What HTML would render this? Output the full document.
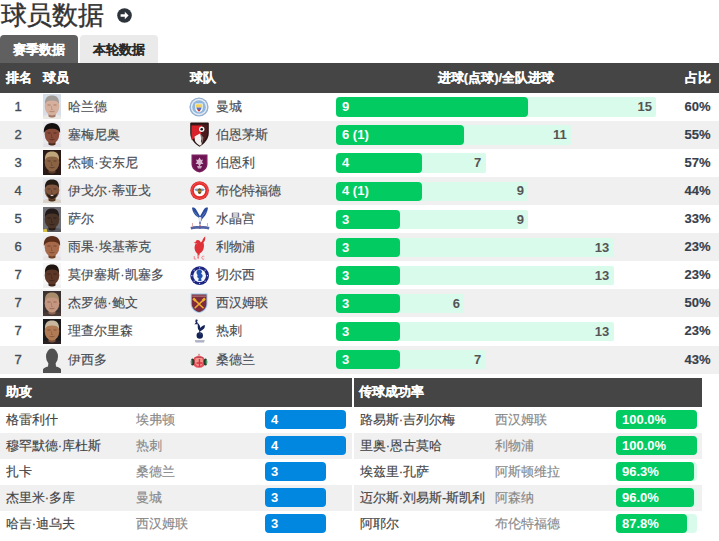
<!DOCTYPE html><html><head><meta charset="utf-8"><style>
*{margin:0;padding:0;box-sizing:border-box}
html,body{width:719px;height:541px;overflow:hidden;background:#fff}
body{font-family:"Liberation Sans", sans-serif;color:#333;position:relative}
.a{position:absolute;white-space:nowrap}
.title{left:0.6px;top:-2.5px;font-size:25.5px;line-height:34px;color:#333;letter-spacing:-0.3px;-webkit-text-stroke:0.4px #333}
.tab{-webkit-text-stroke:0.2px currentColor;top:35px;height:28px;width:78px;border-radius:4px 4px 0 0;font-size:13px;font-weight:bold;line-height:29px;text-align:center}
.hdr{background:#454545;color:#fff;font-weight:bold;font-size:13px;-webkit-text-stroke:0.2px #fff}
.row{left:0;width:719px}
.g{background:#f0f0f0}
.t{font-size:13px;line-height:16px;-webkit-text-stroke:0.15px currentColor}
.bar{border-radius:4px}
.bt{color:#fff;font-weight:bold;font-size:13px;line-height:20px}
</style></head><body>

<div class="a title">球员数据</div>
<svg class="a" style="left:116.8px;top:8px" width="15" height="15" viewBox="0 0 15 15"><circle cx="7.5" cy="7.5" r="7.3" fill="#2d333b"/><path d="M3.6 6.3h4.2V3.8l3.8 3.7-3.8 3.7V8.7H3.6z" fill="#fff"/></svg>
<div class="a tab" style="left:0;background:#606060;color:#fff">赛季数据</div>
<div class="a tab" style="left:79.8px;width:78.2px;background:#eaeaea;color:#2a2a2a;line-height:30px;-webkit-text-stroke:0.1px #2a2a2a">本轮数据</div>
<div class="a hdr" style="left:0;top:63px;width:719px;height:29.599999999999994px"></div>
<div class="a hdr" style="left:5.6px;top:63px;line-height:29.599999999999994px;background:none;">排名</div>
<div class="a hdr" style="left:42.5px;top:63px;line-height:29.599999999999994px;background:none;">球员</div>
<div class="a hdr" style="left:189.5px;top:63px;line-height:29.599999999999994px;background:none;">球队</div>
<div class="a hdr" style="left:336px;top:63px;line-height:29.599999999999994px;background:none;width:320px;text-align:center">进球(点球)/全队进球</div>
<div class="a hdr" style="top:63px;line-height:29.599999999999994px;background:none;right:7.8px;left:auto">占比</div>
<div class="a row" style="top:92.60px;height:28.1px">
<div class="a t" style="left:0;width:36px;text-align:center;top:6px;color:#434c56;-webkit-text-stroke:0.35px #434c56">1</div>
<svg width="18" height="25" viewBox="0 0 18 25" style="position:absolute;left:43px;top:1.6px"><rect width="18" height="25" fill="#d8dee8"/><path d="M0 22.5c2-1.5 5-2 9-2s7 .5 9 2V25H0z" fill="#ece8e4"/><path d="M5.5 17h7v5.5c-1 .8-2 1-3.5 1s-2.5-.2-3.5-1z" fill="#a07868"/><ellipse cx="9" cy="12.3" rx="7.3" ry="9.2" fill="#d6b09c"/><path d="M2 10c-.5-6 2.5-8.5 7-8.5s7.5 2.5 7 8.5c-1-2.5-3-3.5-7-3.5S3 7.5 2 10z" fill="#a29c98"/><path d="M4.5 11h3M10.5 11h3" stroke="#a07868" stroke-width="1.2" opacity=".9"/><path d="M8.5 12v3.5h1.5" stroke="#a07868" stroke-width=".7" fill="none" opacity=".6"/><path d="M6.5 17.2c1.5.7 3.5.7 5 0" stroke="#a07868" stroke-width="1" fill="none" opacity=".8"/></svg>
<div class="a t" style="left:68.2px;top:6px;color:#474c52">哈兰德</div>
<svg width="20" height="20" viewBox="0 0 20 20" style="position:absolute;left:189px;top:4.2px"><circle cx="10" cy="10" r="9.6" fill="#95b0d2"/><circle cx="10" cy="10" r="8.2" fill="#e6edf5"/><circle cx="10" cy="10" r="6.8" fill="#8fb6dc"/><path d="M6.3 6.5h7.4v4.5c0 2.5-1.8 3.8-3.7 4.5-1.9-.7-3.7-2-3.7-4.5z" fill="#fff"/><path d="M6.8 7.2h6.4v3.3H6.8z" fill="#f4d25a"/><path d="M7.4 10.5h5.2c-.2 2-1.2 3-2.6 3.8-1.4-.8-2.4-1.8-2.6-3.8z" fill="#5a6ec0"/><path d="M9 12.6h2v1.6H9z" fill="#d0342c"/></svg>
<div class="a t" style="left:215.5px;top:6px;color:#474c52">曼城</div>
<div class="a bar" style="left:336.4px;top:4.7px;width:320.0px;height:19.3px;background:#d9fbec;border-radius:2px"></div>
<div class="a bar" style="left:336.4px;top:4.7px;width:192.0px;height:19.3px;background:#02cb62"></div>
<div class="a bt" style="left:342px;top:4.5px">9</div>
<div class="a bt" style="left:336px;width:316.0px;text-align:right;top:4.5px;color:#555">15</div>
<div class="a t" style="right:8.4px;top:6px;font-weight:bold;color:#36404c">60%</div>
</div>
<div class="a row g" style="top:120.70px;height:28.1px">
<div class="a t" style="left:0;width:36px;text-align:center;top:6px;color:#434c56;-webkit-text-stroke:0.35px #434c56">2</div>
<svg width="18" height="25" viewBox="0 0 18 25" style="position:absolute;left:43px;top:1.6px"><rect width="18" height="25" fill="#e8e8ee"/><path d="M0 22.5c2-1.5 5-2 9-2s7 .5 9 2V25H0z" fill="#e2e2e8"/><path d="M5.5 17h7v5.5c-1 .8-2 1-3.5 1s-2.5-.2-3.5-1z" fill="#4e2a1e"/><ellipse cx="9" cy="12.3" rx="7.3" ry="9.2" fill="#8a4c3a"/><path d="M1 11.5C0 5 3.5 1 9 1s9 4 8 10.5c-.8-2.8-3-4.8-8-4.8S1.8 8.7 1 11.5z" fill="#141010"/><path d="M4.5 11h3M10.5 11h3" stroke="#4e2a1e" stroke-width="1.2" opacity=".9"/><path d="M8.5 12v3.5h1.5" stroke="#4e2a1e" stroke-width=".7" fill="none" opacity=".6"/><path d="M6.5 17.2c1.5.7 3.5.7 5 0" stroke="#4e2a1e" stroke-width="1" fill="none" opacity=".8"/></svg>
<div class="a t" style="left:68.2px;top:6px;color:#474c52">塞梅尼奥</div>
<svg width="19" height="25" viewBox="0 0 19 25" style="position:absolute;left:189.6px;top:1.8px"><path d="M1.2.5h16.6q1 0 1 1V11c0 6-4.5 11-9.3 13.7C4.700 22 .2 17 .2 11V1.5q0-1 1-1z" fill="#2a1414"/><path d="M1.5 2.5h16v8.5c0 5-3.8 9.3-8 11.8-4.2-2.5-8-6.8-8-11.8z" fill="#4a1a1c"/><path d="M1.5 3.5h11l-2.5 4.5 1.5 4-6 3.5-4 2.5z" fill="#d8202a"/><path d="M4.5 14.5l5.5-3 2 3.5-1 4 1 3-2 1.8c-2-1.2-3.8-2.8-5-4.8z" fill="#f4f0f0"/><path d="M10 11.5l3.5 4-.8 4.5-1.7 2.3 1-3-1-4z" fill="#8a7272"/><circle cx="11.7" cy="7.3" r="2.7" fill="#f4f4f4"/><circle cx="11.7" cy="7.3" r="1.3" fill="#111"/></svg>
<div class="a t" style="left:215.5px;top:6px;color:#474c52">伯恩茅斯</div>
<div class="a bar" style="left:336.4px;top:4.7px;width:234.7px;height:19.3px;background:#d9fbec;border-radius:2px"></div>
<div class="a bar" style="left:336.4px;top:4.7px;width:128.0px;height:19.3px;background:#02cb62"></div>
<div class="a bt" style="left:342px;top:4.5px">6 (1)</div>
<div class="a bt" style="left:336px;width:230.7px;text-align:right;top:4.5px;color:#555">11</div>
<div class="a t" style="right:8.4px;top:6px;font-weight:bold;color:#36404c">55%</div>
</div>
<div class="a row" style="top:148.80px;height:28.1px">
<div class="a t" style="left:0;width:36px;text-align:center;top:6px;color:#434c56;-webkit-text-stroke:0.35px #434c56">3</div>
<svg width="18" height="25" viewBox="0 0 18 25" style="position:absolute;left:43px;top:1.6px"><rect width="18" height="25" fill="#2c1a16"/><path d="M0 22.5c2-1.5 5-2 9-2s7 .5 9 2V25H0z" fill="#2a1a16"/><path d="M5.5 17h7v5.5c-1 .8-2 1-3.5 1s-2.5-.2-3.5-1z" fill="#5a3a28"/><ellipse cx="9" cy="12.3" rx="7.3" ry="9.2" fill="#8a6244"/><path d="M2 10c-.5-6 2.5-8.5 7-8.5s7.5 2.5 7 8.5c-1-2.5-3-3.5-7-3.5S3 7.5 2 10z" fill="#c0a67c"/><path d="M4.5 11h3M10.5 11h3" stroke="#5a3a28" stroke-width="1.2" opacity=".9"/><path d="M8.5 12v3.5h1.5" stroke="#5a3a28" stroke-width=".7" fill="none" opacity=".6"/><path d="M6.5 17.2c1.5.7 3.5.7 5 0" stroke="#5a3a28" stroke-width="1" fill="none" opacity=".8"/></svg>
<div class="a t" style="left:68.2px;top:6px;color:#474c52">杰顿·安东尼</div>
<svg width="17" height="19" viewBox="0 0 17 19" style="position:absolute;left:191px;top:5px"><path d="M.5.5h16v9.5c0 4.5-3.5 7.5-8 8.5-4.5-1-8-4-8-8.5z" fill="#7b1f5e"/><path d="M2 2h13v8c0 3.8-3 6.2-6.5 7.2C5 16.2 2 13.8 2 10z" fill="#6d1552"/><path d="M8.5 3.5l1.5 2.5 2-.5-1 2.5 1.5 2H10l-1.5 2.5L7 10H4.5L6 8 5 5.5l2 .5z" fill="#d8b8d0"/><path d="M6 12h5l-1 2.5H7z" fill="#c8a8c0"/></svg>
<div class="a t" style="left:215.5px;top:6px;color:#474c52">伯恩利</div>
<div class="a bar" style="left:336.4px;top:4.7px;width:149.3px;height:19.3px;background:#d9fbec;border-radius:2px"></div>
<div class="a bar" style="left:336.4px;top:4.7px;width:85.3px;height:19.3px;background:#02cb62"></div>
<div class="a bt" style="left:342px;top:4.5px">4</div>
<div class="a bt" style="left:336px;width:145.3px;text-align:right;top:4.5px;color:#555">7</div>
<div class="a t" style="right:8.4px;top:6px;font-weight:bold;color:#36404c">57%</div>
</div>
<div class="a row g" style="top:176.90px;height:28.1px">
<div class="a t" style="left:0;width:36px;text-align:center;top:6px;color:#434c56;-webkit-text-stroke:0.35px #434c56">4</div>
<svg width="18" height="25" viewBox="0 0 18 25" style="position:absolute;left:43px;top:1.6px"><rect width="18" height="25" fill="#e4e6ec"/><path d="M0 22.5c2-1.5 5-2 9-2s7 .5 9 2V25H0z" fill="#d8d2c8"/><path d="M5.5 17h7v5.5c-1 .8-2 1-3.5 1s-2.5-.2-3.5-1z" fill="#50321e"/><ellipse cx="9" cy="12.3" rx="7.3" ry="9.2" fill="#80563e"/><path d="M2 10c-.5-6 2.5-8.5 7-8.5s7.5 2.5 7 8.5c-1-2.5-3-3.5-7-3.5S3 7.5 2 10z" fill="#231a14"/><path d="M4.5 11h3M10.5 11h3" stroke="#50321e" stroke-width="1.2" opacity=".9"/><path d="M8.5 12v3.5h1.5" stroke="#50321e" stroke-width=".7" fill="none" opacity=".6"/><path d="M6.5 17.2c1.5.7 3.5.7 5 0" stroke="#50321e" stroke-width="1" fill="none" opacity=".8"/><path d="M3 13c.5 5 3 8 6 8s5.5-3 6-8c-.5 2.5-2 4-6 4s-5.5-1.5-6-4z" fill="#2a1e18"/><path d="M7 17h4l-2 1.2z" fill="#f4f0ea"/></svg>
<div class="a t" style="left:68.2px;top:6px;color:#474c52">伊戈尔·蒂亚戈</div>
<svg width="19.2" height="19.2" viewBox="0 0 20 20" style="position:absolute;left:189.8px;top:4.6px"><circle cx="10" cy="10" r="9.7" fill="#e42a2a"/><circle cx="10" cy="10" r="6" fill="#fff"/><circle cx="10" cy="10" r="8.3" fill="none" stroke="#f07070" stroke-width=".6"/><path d="M4.5 8.8c1.8-1.2 3.6-1.2 5.5 0 1.9-1.2 3.7-1.2 5.5 0-.9 1.7-3 2.1-5.5 1.7-2.5.4-4.6 0-5.5-1.7z" fill="#7a9ac8"/><ellipse cx="10" cy="10.5" rx="1.9" ry="3" fill="#6a5020"/><path d="M8.3 10h3.4v1H8.3z" fill="#e0a020"/></svg>
<div class="a t" style="left:215.5px;top:6px;color:#474c52">布伦特福德</div>
<div class="a bar" style="left:336.4px;top:4.7px;width:192.0px;height:19.3px;background:#d9fbec;border-radius:2px"></div>
<div class="a bar" style="left:336.4px;top:4.7px;width:85.3px;height:19.3px;background:#02cb62"></div>
<div class="a bt" style="left:342px;top:4.5px">4 (1)</div>
<div class="a bt" style="left:336px;width:188.0px;text-align:right;top:4.5px;color:#555">9</div>
<div class="a t" style="right:8.4px;top:6px;font-weight:bold;color:#36404c">44%</div>
</div>
<div class="a row" style="top:205.00px;height:28.1px">
<div class="a t" style="left:0;width:36px;text-align:center;top:6px;color:#434c56;-webkit-text-stroke:0.35px #434c56">5</div>
<svg width="18" height="25" viewBox="0 0 18 25" style="position:absolute;left:43px;top:1.6px"><rect width="18" height="25" fill="#6e6e76"/><path d="M0 22.5c2-1.5 5-2 9-2s7 .5 9 2V25H0z" fill="#585860"/><path d="M5.5 17h7v5.5c-1 .8-2 1-3.5 1s-2.5-.2-3.5-1z" fill="#2a1c16"/><ellipse cx="9" cy="12.3" rx="7.3" ry="9.2" fill="#4a3428"/><path d="M2 10c-.5-6 2.5-8.5 7-8.5s7.5 2.5 7 8.5c-1-2.5-3-3.5-7-3.5S3 7.5 2 10z" fill="#221a18"/><path d="M4.5 11h3M10.5 11h3" stroke="#2a1c16" stroke-width="1.2" opacity=".9"/><path d="M8.5 12v3.5h1.5" stroke="#2a1c16" stroke-width=".7" fill="none" opacity=".6"/><path d="M6.5 17.2c1.5.7 3.5.7 5 0" stroke="#2a1c16" stroke-width="1" fill="none" opacity=".8"/><path d="M0 22.5l3.5-1 1 3.5H0z" fill="#d8c040"/></svg>
<div class="a t" style="left:68.2px;top:6px;color:#474c52">萨尔</div>
<svg width="20" height="25" viewBox="0 0 20 25" style="position:absolute;left:189.5px;top:2.2px"><path d="M2 .8c1.5-.5 3 0 4 1.5l4 7 4-7c1-1.5 2.5-2 4-1.5-.5 3.5-2 7.5-4.5 9.7-1 .8-1.5 2-2.5 4-1-2-1.5-3.2-2.5-4C4 8.300 2.500 4.300 2 .8z" fill="#2b4c9c"/><path d="M4 4.5c1.5 1.5 3 3.5 4.5 6M16 4.5c-1.5 1.5-3 3.5-4.5 6" stroke="#7090d0" stroke-width=".7" fill="none"/><ellipse cx="10" cy="12" rx="1.5" ry="2.2" fill="#dfe4f0"/><path d="M9.3 14.5h1.4v3H9.3z" fill="#4a5aa0"/><circle cx="10" cy="19.3" r="1" fill="#c8202e"/><path d="M.5 20c3-1 6.5-1.2 9.5-.6 3-.6 6.5-.4 9.5.6l-.6 2.6c-3-.9-6-1-8.9-.5-2.9-.5-5.9-.4-8.9.5z" fill="#5464a4"/><path d="M2.5 16v4M17.5 16v4" stroke="#e0a0a0" stroke-width=".9"/></svg>
<div class="a t" style="left:215.5px;top:6px;color:#474c52">水晶宫</div>
<div class="a bar" style="left:336.4px;top:4.7px;width:192.0px;height:19.3px;background:#d9fbec;border-radius:2px"></div>
<div class="a bar" style="left:336.4px;top:4.7px;width:64.0px;height:19.3px;background:#02cb62"></div>
<div class="a bt" style="left:342px;top:4.5px">3</div>
<div class="a bt" style="left:336px;width:188.0px;text-align:right;top:4.5px;color:#555">9</div>
<div class="a t" style="right:8.4px;top:6px;font-weight:bold;color:#36404c">33%</div>
</div>
<div class="a row g" style="top:233.10px;height:28.1px">
<div class="a t" style="left:0;width:36px;text-align:center;top:6px;color:#434c56;-webkit-text-stroke:0.35px #434c56">6</div>
<svg width="18" height="25" viewBox="0 0 18 25" style="position:absolute;left:43px;top:1.6px"><rect width="18" height="25" fill="#ecebef"/><path d="M0 22.5c2-1.5 5-2 9-2s7 .5 9 2V25H0z" fill="#e8e4e4"/><path d="M5.5 17h7v5.5c-1 .8-2 1-3.5 1s-2.5-.2-3.5-1z" fill="#6e4028"/><ellipse cx="9" cy="12.3" rx="7.3" ry="9.2" fill="#a66a4a"/><path d="M1 11.5C0 5 3.5 1 9 1s9 4 8 10.5c-.8-2.8-3-4.8-8-4.8S1.8 8.7 1 11.5z" fill="#5a2e1a"/><path d="M4.5 11h3M10.5 11h3" stroke="#6e4028" stroke-width="1.2" opacity=".9"/><path d="M8.5 12v3.5h1.5" stroke="#6e4028" stroke-width=".7" fill="none" opacity=".6"/><path d="M6.5 17.2c1.5.7 3.5.7 5 0" stroke="#6e4028" stroke-width="1" fill="none" opacity=".8"/></svg>
<div class="a t" style="left:68.2px;top:6px;color:#474c52">雨果·埃基蒂克</div>
<svg width="14.5" height="24" viewBox="0 0 14 24" style="position:absolute;left:192.2px;top:3.2px"><path d="M13 .5c-1.5 1-2.5 2.5-3 4.5L8.5 6.5c-.5-1.5-1.5-2.5-3-2.5-1.2 0-2 .8-2.2 2L1.5 6.8l2 .6c-.8 1.5-1.5 3.5-1 6 .5 2 2 3.5 3 4.5l-.5 1.5h2l.5-2c2-1 3.5-3 4-5.5.4-2 .2-3.8-.3-5.3 1.5-1.5 2-3.5 1.8-6.1z" fill="#e03038"/><path d="M3 7l2 1" stroke="#f2a0a6" stroke-width=".6"/><path d="M2 20v3h2M6 20v3M5 20h2M5 21.5h1.5M12 20.5c-.5-.5-2.5-.5-2.5 1.2s2 1.7 2.5 1.2" stroke="#f07880" stroke-width=".9" fill="none"/></svg>
<div class="a t" style="left:215.5px;top:6px;color:#474c52">利物浦</div>
<div class="a bar" style="left:336.4px;top:4.7px;width:277.3px;height:19.3px;background:#d9fbec;border-radius:2px"></div>
<div class="a bar" style="left:336.4px;top:4.7px;width:64.0px;height:19.3px;background:#02cb62"></div>
<div class="a bt" style="left:342px;top:4.5px">3</div>
<div class="a bt" style="left:336px;width:273.3px;text-align:right;top:4.5px;color:#555">13</div>
<div class="a t" style="right:8.4px;top:6px;font-weight:bold;color:#36404c">23%</div>
</div>
<div class="a row" style="top:261.20px;height:28.1px">
<div class="a t" style="left:0;width:36px;text-align:center;top:6px;color:#434c56;-webkit-text-stroke:0.35px #434c56">7</div>
<svg width="18" height="25" viewBox="0 0 18 25" style="position:absolute;left:43px;top:1.6px"><rect width="18" height="25" fill="#f6f6f6"/><path d="M0 22.5c2-1.5 5-2 9-2s7 .5 9 2V25H0z" fill="#f0f0f0"/><path d="M5.5 17h7v5.5c-1 .8-2 1-3.5 1s-2.5-.2-3.5-1z" fill="#3a2016"/><ellipse cx="9" cy="12.3" rx="7.3" ry="9.2" fill="#5c3626"/><path d="M2 10c-.5-6 2.5-8.5 7-8.5s7.5 2.5 7 8.5c-1-2.5-3-3.5-7-3.5S3 7.5 2 10z" fill="#1e1410"/><path d="M4.5 11h3M10.5 11h3" stroke="#3a2016" stroke-width="1.2" opacity=".9"/><path d="M8.5 12v3.5h1.5" stroke="#3a2016" stroke-width=".7" fill="none" opacity=".6"/><path d="M6.5 17.2c1.5.7 3.5.7 5 0" stroke="#3a2016" stroke-width="1" fill="none" opacity=".8"/></svg>
<div class="a t" style="left:68.2px;top:6px;color:#474c52">莫伊塞斯·凯塞多</div>
<svg width="19.3" height="19.3" viewBox="0 0 20 20" style="position:absolute;left:189.6px;top:4.7px"><circle cx="10" cy="10" r="9.7" fill="#1c2580"/><circle cx="10" cy="10" r="6.6" fill="#f4f6fb"/><circle cx="10" cy="1.9" r=".7" fill="#cfd6f0"/><circle cx="10" cy="18.1" r=".7" fill="#cfd6f0"/><circle cx="1.9" cy="10" r=".7" fill="#cfd6f0"/><circle cx="18.1" cy="10" r=".7" fill="#cfd6f0"/><circle cx="4.3" cy="4.3" r=".6" fill="#cfd6f0"/><circle cx="15.7" cy="4.3" r=".6" fill="#cfd6f0"/><circle cx="4.3" cy="15.7" r=".6" fill="#cfd6f0"/><circle cx="15.7" cy="15.7" r=".6" fill="#cfd6f0"/><path d="M8 4.2c2-1 4.5 0 4.5 2l-1 1.5 1.5 1.5c.5 1.5-.5 3-1.5 3.5l.5 2.8H8.5l.5-2.8c-1.5-.5-2-2-1-3L7 8c-.5-1.5 0-3 1-3.8z" fill="#2050b0"/></svg>
<div class="a t" style="left:215.5px;top:6px;color:#474c52">切尔西</div>
<div class="a bar" style="left:336.4px;top:4.7px;width:277.3px;height:19.3px;background:#d9fbec;border-radius:2px"></div>
<div class="a bar" style="left:336.4px;top:4.7px;width:64.0px;height:19.3px;background:#02cb62"></div>
<div class="a bt" style="left:342px;top:4.5px">3</div>
<div class="a bt" style="left:336px;width:273.3px;text-align:right;top:4.5px;color:#555">13</div>
<div class="a t" style="right:8.4px;top:6px;font-weight:bold;color:#36404c">23%</div>
</div>
<div class="a row g" style="top:289.30px;height:28.1px">
<div class="a t" style="left:0;width:36px;text-align:center;top:6px;color:#434c56;-webkit-text-stroke:0.35px #434c56">7</div>
<svg width="18" height="25" viewBox="0 0 18 25" style="position:absolute;left:43px;top:1.6px"><rect width="18" height="25" fill="#3c3232"/><path d="M0 22.5c2-1.5 5-2 9-2s7 .5 9 2V25H0z" fill="#4a3a36"/><path d="M5.5 17h7v5.5c-1 .8-2 1-3.5 1s-2.5-.2-3.5-1z" fill="#8a6250"/><ellipse cx="9" cy="12.3" rx="7.3" ry="9.2" fill="#c49680"/><path d="M2 10c-.5-6 2.5-8.5 7-8.5s7.5 2.5 7 8.5c-1-2.5-3-3.5-7-3.5S3 7.5 2 10z" fill="#a88c6c"/><path d="M4.5 11h3M10.5 11h3" stroke="#8a6250" stroke-width="1.2" opacity=".9"/><path d="M8.5 12v3.5h1.5" stroke="#8a6250" stroke-width=".7" fill="none" opacity=".6"/><path d="M6.5 17.2c1.5.7 3.5.7 5 0" stroke="#8a6250" stroke-width="1" fill="none" opacity=".8"/></svg>
<div class="a t" style="left:68.2px;top:6px;color:#474c52">杰罗德·鲍文</div>
<svg width="18.2" height="20.6" viewBox="0 0 18 21" style="position:absolute;left:189.9px;top:3.9px"><path d="M.5.5h17v10.5c0 5-4 8.5-8.5 9.5C4.5 19.5.5 16 .5 11z" fill="#9ac8e8"/><path d="M1.5 1.5h15v9.5c0 4.5-3.5 7.5-7.5 8.5-4-1-7.5-4-7.5-8.5z" fill="#7d2b3d"/><path d="M2 2.5h14v1.5H2z" fill="#c09090" opacity=".6"/><path d="M4 6.5l9.5 9M14 6.5l-9.5 9" stroke="#f0b030" stroke-width="1.5"/><path d="M3 5.5l2.5 2.5M15 5.5l-2.5 2.5" stroke="#f0b030" stroke-width="2.5"/></svg>
<div class="a t" style="left:215.5px;top:6px;color:#474c52">西汉姆联</div>
<div class="a bar" style="left:336.4px;top:4.7px;width:128.0px;height:19.3px;background:#d9fbec;border-radius:2px"></div>
<div class="a bar" style="left:336.4px;top:4.7px;width:64.0px;height:19.3px;background:#02cb62"></div>
<div class="a bt" style="left:342px;top:4.5px">3</div>
<div class="a bt" style="left:336px;width:124.0px;text-align:right;top:4.5px;color:#555">6</div>
<div class="a t" style="right:8.4px;top:6px;font-weight:bold;color:#36404c">50%</div>
</div>
<div class="a row" style="top:317.40px;height:28.1px">
<div class="a t" style="left:0;width:36px;text-align:center;top:6px;color:#434c56;-webkit-text-stroke:0.35px #434c56">7</div>
<svg width="18" height="25" viewBox="0 0 18 25" style="position:absolute;left:43px;top:1.6px"><rect width="18" height="25" fill="#1a1a1c"/><path d="M0 22.5c2-1.5 5-2 9-2s7 .5 9 2V25H0z" fill="#2a2224"/><path d="M5.5 17h7v5.5c-1 .8-2 1-3.5 1s-2.5-.2-3.5-1z" fill="#7a5038"/><ellipse cx="9" cy="12.3" rx="7.3" ry="9.2" fill="#b07a54"/><path d="M2 10c-.5-6 2.5-8.5 7-8.5s7.5 2.5 7 8.5c-1-2.5-3-3.5-7-3.5S3 7.5 2 10z" fill="#c8b8a0"/><path d="M4.5 11h3M10.5 11h3" stroke="#7a5038" stroke-width="1.2" opacity=".9"/><path d="M8.5 12v3.5h1.5" stroke="#7a5038" stroke-width=".7" fill="none" opacity=".6"/><path d="M6.5 17.2c1.5.7 3.5.7 5 0" stroke="#7a5038" stroke-width="1" fill="none" opacity=".8"/></svg>
<div class="a t" style="left:68.2px;top:6px;color:#474c52">理查尔里森</div>
<svg width="13.5" height="26" viewBox="0 0 13 26" style="position:absolute;left:192.5px;top:1.5px"><path d="M2.5.5h1.5l.5 1.5-.8.5c.5.8 1 1.8 1 3-1-.3-2.5-.5-3.5 0 .5-1 1-1.5 1.5-2L2 2.5z" fill="#1a2a5a"/><path d="M4.5 4c1.5 1 2.5 3 2.5 5 1-1.5 2.5-2.5 4.5-3 .5 2-.5 4-2.5 5L7.5 12c-1.5 0-3-1.5-3-3.5z" fill="#132257"/><path d="M6.5 11v3" stroke="#132257" stroke-width="1"/><circle cx="6.5" cy="16.5" r="3.2" fill="#132257"/><path d="M6 15c.5-.5 1.5-.5 2 .5" stroke="#5a6a9a" stroke-width=".6" fill="none"/><path d="M1.5 21h10l-.8 2.5H2.3z" fill="#a8acc0"/><path d="M2 21.8h9" stroke="#d0d4e0" stroke-width=".5"/></svg>
<div class="a t" style="left:215.5px;top:6px;color:#474c52">热刺</div>
<div class="a bar" style="left:336.4px;top:4.7px;width:277.3px;height:19.3px;background:#d9fbec;border-radius:2px"></div>
<div class="a bar" style="left:336.4px;top:4.7px;width:64.0px;height:19.3px;background:#02cb62"></div>
<div class="a bt" style="left:342px;top:4.5px">3</div>
<div class="a bt" style="left:336px;width:273.3px;text-align:right;top:4.5px;color:#555">13</div>
<div class="a t" style="right:8.4px;top:6px;font-weight:bold;color:#36404c">23%</div>
</div>
<div class="a row g" style="top:345.50px;height:28.1px">
<div class="a t" style="left:0;width:36px;text-align:center;top:6px;color:#434c56;-webkit-text-stroke:0.35px #434c56">7</div>
<svg width="18" height="25" viewBox="0 0 18 25" style="position:absolute;left:43px;top:2px"><ellipse cx="9" cy="8.6" rx="6" ry="8" fill="#505050"/><path d="M5.5 14h7l.5 4.5c2.5.6 4.5 1.5 5 2.8V25H0v-3.7c.5-1.3 2.5-2.2 5-2.8z" fill="#505050"/></svg>
<div class="a t" style="left:68.2px;top:6px;color:#474c52">伊西多</div>
<svg width="18" height="16" viewBox="0 0 18 16" style="position:absolute;left:190.3px;top:7.6px"><path d="M7.5 2.5L9 .6l1.5 1.9z" fill="#d08080"/><path d="M4.2 4.5Q9 .8 13.8 4.5l1.2 4.5Q15 14.8 9 14.8T3 9z" fill="#e4505c"/><ellipse cx="9" cy="8.5" rx="4" ry="4.5" fill="#f2948c"/><path d="M9.5 6v8M6.5 10h6" stroke="#dc3040" stroke-width="1.4"/><path d="M5 4.5h8" stroke="#b84a58" stroke-width="1"/><ellipse cx="2.6" cy="9" rx="1.8" ry="3.6" fill="#243a2a"/><ellipse cx="15.4" cy="9" rx="1.8" ry="3.6" fill="#243a2a"/><ellipse cx="1.6" cy="9" rx=".8" ry="2.5" fill="#5a9a70"/><ellipse cx="16.4" cy="9" rx=".8" ry="2.5" fill="#5a9a70"/></svg>
<div class="a t" style="left:215.5px;top:6px;color:#474c52">桑德兰</div>
<div class="a bar" style="left:336.4px;top:4.7px;width:149.3px;height:19.3px;background:#d9fbec;border-radius:2px"></div>
<div class="a bar" style="left:336.4px;top:4.7px;width:64.0px;height:19.3px;background:#02cb62"></div>
<div class="a bt" style="left:342px;top:4.5px">3</div>
<div class="a bt" style="left:336px;width:145.3px;text-align:right;top:4.5px;color:#555">7</div>
<div class="a t" style="right:8.4px;top:6px;font-weight:bold;color:#36404c">43%</div>
</div>
<div class="a hdr" style="left:0;top:377.9px;width:351.6px;height:29.6px;line-height:27.6px;padding-left:5.6px">助攻</div>
<div class="a hdr" style="left:354px;top:377.9px;width:348.4px;height:29.6px;line-height:27.6px;padding-left:5.4px">传球成功率</div>
<div class="a" style="left:0;top:407.10px;width:351.7px;height:26.0px">
<div class="a t" style="left:5.7px;top:5.4px;color:#444">格雷利什</div>
<div class="a t" style="left:135.5px;top:5.4px;color:#888">埃弗顿</div>
<div class="a bar" style="left:265px;top:3.2px;width:81.0px;height:19px;background:#0187df"></div>
<div class="a bt" style="left:271px;top:2.5px;line-height:19px">4</div>
</div>
<div class="a g" style="left:0;top:433.10px;width:351.7px;height:26.0px">
<div class="a t" style="left:5.7px;top:5.4px;color:#444">穆罕默德·库杜斯</div>
<div class="a t" style="left:135.5px;top:5.4px;color:#888">热刺</div>
<div class="a bar" style="left:265px;top:3.2px;width:81.0px;height:19px;background:#0187df"></div>
<div class="a bt" style="left:271px;top:2.5px;line-height:19px">4</div>
</div>
<div class="a" style="left:0;top:459.10px;width:351.7px;height:26.0px">
<div class="a t" style="left:5.7px;top:5.4px;color:#444">扎卡</div>
<div class="a t" style="left:135.5px;top:5.4px;color:#888">桑德兰</div>
<div class="a bar" style="left:265px;top:3.2px;width:60.8px;height:19px;background:#0187df"></div>
<div class="a bt" style="left:271px;top:2.5px;line-height:19px">3</div>
</div>
<div class="a g" style="left:0;top:485.10px;width:351.7px;height:26.0px">
<div class="a t" style="left:5.7px;top:5.4px;color:#444">杰里米·多库</div>
<div class="a t" style="left:135.5px;top:5.4px;color:#888">曼城</div>
<div class="a bar" style="left:265px;top:3.2px;width:60.8px;height:19px;background:#0187df"></div>
<div class="a bt" style="left:271px;top:2.5px;line-height:19px">3</div>
</div>
<div class="a" style="left:0;top:511.10px;width:351.7px;height:26.0px">
<div class="a t" style="left:5.7px;top:5.4px;color:#444">哈吉·迪乌夫</div>
<div class="a t" style="left:135.5px;top:5.4px;color:#888">西汉姆联</div>
<div class="a bar" style="left:265px;top:3.2px;width:60.8px;height:19px;background:#0187df"></div>
<div class="a bt" style="left:271px;top:2.5px;line-height:19px">3</div>
</div>
<div class="a" style="left:354px;top:407.10px;width:348.4px;height:26.0px">
<div class="a t" style="left:5.7px;top:5.4px;color:#444">路易斯·吉列尔梅</div>
<div class="a t" style="left:141.3px;top:5.4px;color:#888">西汉姆联</div>
<div class="a bar" style="left:262px;top:3.2px;width:81px;height:19px;background:#d9fbec"></div>
<div class="a bar" style="left:262px;top:3.2px;width:81.0px;height:19px;background:#02cb62"></div>
<div class="a bt" style="left:268px;top:2.5px;line-height:19px">100.0%</div>
</div>
<div class="a g" style="left:354px;top:433.10px;width:348.4px;height:26.0px">
<div class="a t" style="left:5.7px;top:5.4px;color:#444">里奥·恩古莫哈</div>
<div class="a t" style="left:141.3px;top:5.4px;color:#888">利物浦</div>
<div class="a bar" style="left:262px;top:3.2px;width:81px;height:19px;background:#d9fbec"></div>
<div class="a bar" style="left:262px;top:3.2px;width:81.0px;height:19px;background:#02cb62"></div>
<div class="a bt" style="left:268px;top:2.5px;line-height:19px">100.0%</div>
</div>
<div class="a" style="left:354px;top:459.10px;width:348.4px;height:26.0px">
<div class="a t" style="left:5.7px;top:5.4px;color:#444">埃兹里·孔萨</div>
<div class="a t" style="left:141.3px;top:5.4px;color:#888">阿斯顿维拉</div>
<div class="a bar" style="left:262px;top:3.2px;width:81px;height:19px;background:#d9fbec"></div>
<div class="a bar" style="left:262px;top:3.2px;width:78.0px;height:19px;background:#02cb62"></div>
<div class="a bt" style="left:268px;top:2.5px;line-height:19px">96.3%</div>
</div>
<div class="a g" style="left:354px;top:485.10px;width:348.4px;height:26.0px">
<div class="a t" style="left:5.7px;top:5.4px;color:#444">迈尔斯·刘易斯-斯凯利</div>
<div class="a t" style="left:141.3px;top:5.4px;color:#888">阿森纳</div>
<div class="a bar" style="left:262px;top:3.2px;width:81px;height:19px;background:#d9fbec"></div>
<div class="a bar" style="left:262px;top:3.2px;width:77.8px;height:19px;background:#02cb62"></div>
<div class="a bt" style="left:268px;top:2.5px;line-height:19px">96.0%</div>
</div>
<div class="a" style="left:354px;top:511.10px;width:348.4px;height:26.0px">
<div class="a t" style="left:5.7px;top:5.4px;color:#444">阿耶尔</div>
<div class="a t" style="left:141.3px;top:5.4px;color:#888">布伦特福德</div>
<div class="a bar" style="left:262px;top:3.2px;width:81px;height:19px;background:#d9fbec"></div>
<div class="a bar" style="left:262px;top:3.2px;width:71.1px;height:19px;background:#02cb62"></div>
<div class="a bt" style="left:268px;top:2.5px;line-height:19px">87.8%</div>
</div>
</body></html>
